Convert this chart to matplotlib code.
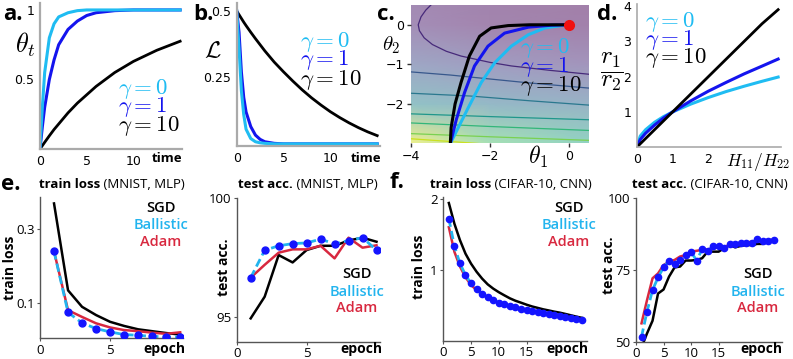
import numpy as np
import matplotlib
matplotlib.use('Agg')
import matplotlib.pyplot as plt
from matplotlib.colors import ListedColormap

plt.rcParams['mathtext.fontset'] = 'cm'
plt.rcParams['font.family'] = ['Open Sans', 'DejaVu Sans']

W, H = 793, 359

CYAN = '#1fbcf2'
BLUE = '#1414ee'
RED = '#d8283f'
SPINE = '#aaaaaa'

# --- a. theta_t over time
a_t = [0, 0.25, 0.5, 1, 1.5, 2, 3, 4, 5, 6, 8, 10, 12.5, 15]
a_cyan = [0, 0.3, 0.55, 0.8, 0.9, 0.95, 0.98, 0.995, 1.0, 1.0, 1.0, 1.0, 1.0, 1.0]
a_blue = [0, 0.16, 0.3, 0.5, 0.64, 0.75, 0.86, 0.92, 0.96, 0.98, 0.995, 1.0, 1.0, 1.0]
a_black = [0, 0.024, 0.048, 0.095, 0.14, 0.18, 0.26, 0.33, 0.39, 0.45, 0.55, 0.63, 0.71, 0.775]

# --- b. loss over time
b_t = [0, 0.25, 0.5, 0.75, 1, 1.5, 2, 2.5, 3, 4, 5, 6, 7, 8, 9, 10, 11, 12, 13, 14, 15]
b_cyan = [0.5, 0.36, 0.2, 0.11, 0.055, 0.02, 0.008, 0.004, 0.002, 0.0, 0, 0, 0, 0, 0, 0, 0, 0, 0, 0, 0]
b_blue = [0.5, 0.42, 0.27, 0.175, 0.12, 0.065, 0.033, 0.017, 0.008, 0.002, 0, 0, 0, 0, 0, 0, 0, 0, 0, 0, 0]
b_black = [0.5, 0.486, 0.472, 0.458, 0.445, 0.42, 0.396, 0.373, 0.35, 0.308, 0.271, 0.236, 0.203,
           0.173, 0.146, 0.121, 0.099, 0.079, 0.061, 0.045, 0.031]

# --- c. trajectories on loss landscape
c_black = ([-3.0, -2.98, -2.88, -2.73, -2.52, -2.26, -1.97, -1.54, -1.0, 0.0],
           [-3.0, -2.6, -2.0, -1.46, -0.79, -0.29, -0.08, -0.02, 0.0, 0.0])
c_blue = ([-3.0, -2.85, -2.64, -2.39, -2.05, -1.63, -1.03, -0.44, 0.0],
          [-3.0, -2.4, -1.71, -1.04, -0.54, -0.21, -0.06, -0.01, 0.0])
c_cyan = ([-3.0, -2.8, -2.56, -2.22, -1.88, -1.46, -1.03, -0.61, -0.19, 0.0],
          [-3.0, -2.6, -2.12, -1.46, -0.96, -0.54, -0.25, -0.08, -0.02, 0.0])
bg_theta1 = [-4, -2, 0.5]
bg_theta2 = [-3, -2, -1, 0, 0.5]
bg_level = [[0.95, 0.72, 0.6],
            [0.45, 0.38, 0.33],
            [0.24, 0.17, 0.12],
            [0.08, 0.03, 0.01],
            [0.06, 0.02, 0.0]]
contours = [
    ([-3.49, -3.62, -3.74, -3.81, -3.78, -3.66, -3.45, -3.1, -2.73, -2.0, -1.46, -0.5, 0.5],
     [0.5, 0.37, 0.2, 0.0, -0.15, -0.33, -0.5, -0.67, -0.79, -0.95, -1.04, -1.15, -1.25]),
    ([-4, -3, -2, -1, 0.5], [-1.19, -1.27, -1.37, -1.47, -1.6]),
    ([-4, -2.5, -1, 0.5], [-1.73, -1.8, -1.92, -2.03]),
    ([-4, -2, 0.5], [-2.25, -2.32, -2.4]),
    ([-4, -2, 0.5], [-2.48, -2.57, -2.67]),
    ([-4, -2, 0.5], [-2.75, -2.83, -2.92]),
    ([-4, -3, -2.3], [-2.88, -2.95, -3.0]),
]
contour_shade = [0.12, 0.27, 0.4, 0.53, 0.66, 0.8, 0.92]

# --- d. r1/r2 vs H11/H22
d_x = [0, 0.1, 0.25, 0.5, 0.75, 1, 1.5, 2, 2.5, 3, 3.5, 3.95]
d_cyan = [0, 0.32, 0.5, 0.71, 0.87, 1.0, 1.22, 1.41, 1.58, 1.73, 1.87, 1.99]
d_blue = [0, 0.22, 0.4, 0.63, 0.83, 1.0, 1.31, 1.59, 1.84, 2.08, 2.3, 2.5]
d_black = [0, 0.1, 0.25, 0.5, 0.75, 1, 1.5, 2, 2.5, 3, 3.5, 3.9]

# --- e. MNIST, MLP
e_epoch = [1, 2, 3, 4, 5, 6, 7, 8, 9, 10]
e_loss_sgd = [0.367, 0.135, 0.091, 0.069, 0.051, 0.040, 0.031, 0.026, 0.021, 0.017]
e_loss_ball = [0.239, 0.076, 0.048, 0.033, 0.024, 0.017, 0.015, 0.012, 0.011, 0.010]
e_loss_adam = [0.239, 0.082, 0.064, 0.047, 0.036, 0.029, 0.026, 0.022, 0.019, 0.023]
e_acc_sgd = [94.93, 95.84, 97.59, 97.28, 97.8, 97.98, 97.98, 98.2, 98.32, 98.15]
e_acc_ball = [96.64, 97.79, 97.98, 98.07, 98.1, 98.26, 98.06, 98.2, 98.32, 97.8]
e_acc_adam = [96.64, 97.18, 97.69, 97.83, 97.83, 97.98, 97.45, 98.32, 97.9, 98.0]

# --- f. CIFAR-10, CNN
f_epoch = list(range(1, 26))
f_loss_sgd = [1.94, 1.65, 1.42, 1.23, 1.09, 0.976, 0.88, 0.80, 0.74, 0.69, 0.646, 0.604, 0.57,
              0.543, 0.515, 0.49, 0.47, 0.45, 0.434, 0.417, 0.403, 0.385, 0.366, 0.347, 0.33]
f_loss_ball = [1.72, 1.336, 1.093, 0.93, 0.814, 0.73, 0.664, 0.618, 0.58, 0.543, 0.52, 0.497, 0.478,
               0.455, 0.44, 0.42, 0.406, 0.394, 0.38, 0.366, 0.357, 0.343, 0.333, 0.319, 0.305]
f_loss_adam = [1.6, 1.256, 1.05, 0.9, 0.79, 0.72, 0.66, 0.615, 0.575, 0.54, 0.515, 0.492, 0.473,
               0.452, 0.436, 0.418, 0.404, 0.391, 0.378, 0.365, 0.355, 0.342, 0.331, 0.318, 0.305]
f_acc_sgd = [48, 52.9, 57.3, 66.8, 68.2, 72.7, 75.9, 76.2, 78.3, 78.3, 78.5, 79.1, 81.4, 81.4, 81.4,
             82.6, 83.7, 82.9, 83.4, 83.7, 83.7, 84.1, 84.1, 84.9, 85.2]
f_acc_ball = [51.75, 60.5, 68.0, 72.4, 75.9, 78.3, 77.1, 78.5, 80.1, 81.3, 78.3, 82.2, 81.5, 83.4,
              83.4, 82.6, 84.1, 84.1, 84.3, 84.5, 84.3, 85.9, 85.1, 85.2, 85.5]
f_acc_adam = [56.4, 64.5, 72.1, 73.8, 76.7, 77.9, 78.5, 79.7, 80.2, 81.4, 81.7, 82.0, 82.2, 82.6,
              82.9, 83.1, 83.7, 84.1, 84.3, 84.5, 84.9, 85.1, 85.2, 85.5, 85.5]

gamma_labels = [r'$\gamma = 0$', r'$\gamma = 1$', r'$\gamma = 10$']
gamma_colors = [CYAN, BLUE, 'black']
opt_labels = ['SGD', 'Ballistic', 'Adam']
opt_colors = ['black', '#22b4ee', RED]

# viridis washed out with white, like a half transparent image
pale_viridis = ListedColormap(0.5 * plt.cm.viridis(np.linspace(0, 1, 256)) + 0.5)


def rect(l, t, r, b):
    # pixel box -> figure fraction
    return [l / W, 1 - b / H, (r - l) / W, (b - t) / H]


def ftext(x, y, s, **kw):
    return fig.text(x / W, 1 - y / H, s, **kw)


fig = plt.figure(figsize=(W / 100, H / 100), dpi=100)


def theory_axes(box, spine_lw=1.6):
    ax = fig.add_axes(box)
    for side in ['top', 'right']:
        ax.spines[side].set_visible(False)
    for side in ['left', 'bottom']:
        ax.spines[side].set_color(SPINE)
        ax.spines[side].set_linewidth(spine_lw)
    ax.tick_params(length=0, pad=4, labelsize=9)
    return ax


def fix_tick_font(ax, size=9):
    for lab in ax.get_xticklabels() + ax.get_yticklabels():
        lab.set_family('DejaVu Sans')
        lab.set_fontsize(size)


def gamma_legend(x, ys):
    for y, s, c in zip(ys, gamma_labels, gamma_colors):
        ftext(x, y, s, color=c, fontsize=16.5, va='baseline', ha='left')


# a.
ax = theory_axes(rect(40, 3, 182, 149))
ax.plot(a_t, a_black, color='black', lw=2)
ax.plot(a_t, a_blue, color=BLUE, lw=2.2)
ax.plot(a_t, a_cyan, color=CYAN, lw=2.2)
ax.set_xlim(0, 15.2)
ax.set_ylim(0, 1.05)
ax.set_xticks([0, 5, 10])
ax.set_yticks([0.5, 1])
ax.set_yticklabels(['0.5', '1'])
fix_tick_font(ax)
gamma_legend(118, [94, 112, 131])
ftext(25, 45, r'$\theta_t$', fontsize=19, ha='center', va='center')
ftext(182, 159, 'time', fontsize=9.5, weight='bold', ha='right', va='center')
ftext(3, 15, 'a.', fontsize=16, weight='bold', va='center')

# b.
ax = theory_axes(rect(236.7, 3, 380, 146))
ax.plot(b_t, b_black, color='black', lw=2)
ax.plot(b_t, b_blue, color=BLUE, lw=2.2)
ax.plot(b_t, b_cyan, color=CYAN, lw=2.2)
ax.set_xlim(0, 15.3)
ax.set_ylim(-0.008, 0.53)
ax.set_xticks([0, 5, 10])
ax.set_yticks([0.25, 0.5])
ax.set_yticklabels(['0.25', '0.5'])
fix_tick_font(ax)
gamma_legend(300, [46.7, 65, 85])
ftext(213, 51, r'$\mathcal{L}$', fontsize=17, ha='center', va='center')
ftext(381, 159, 'time', fontsize=9.5, weight='bold', ha='right', va='center')
ftext(193, 15, 'b.', fontsize=16, weight='bold', va='center')

# c.
ax = fig.add_axes(rect(410.7, 5, 589, 143.5))
ax.pcolormesh(bg_theta1, bg_theta2, bg_level, shading='gouraud', cmap=pale_viridis,
              vmin=0, vmax=1)
for (cx, cy), shade in zip(contours, contour_shade):
    ax.plot(cx, cy, color=plt.cm.viridis(shade), lw=0.9)
ax.plot(*c_cyan, color=CYAN, lw=2.2)
ax.plot(*c_blue, color=BLUE, lw=2.2)
ax.plot(*c_black, color='black', lw=2.2)
ax.plot([0], [0], 'o', color='#f01010', ms=7, zorder=5)
ax.set_xlim(-4, 0.5)
ax.set_ylim(-3, 0.5)
for s in ax.spines.values():
    s.set_visible(False)
ax.set_xticks([-4, -2, 0])
ax.set_yticks([-2, -1, 0])
ax.tick_params(length=3, width=1, pad=2, color='#333333')
fix_tick_font(ax)
gamma_legend(520, [53.3, 71.7, 90.7])
ftext(391, 45, r'$\theta_2$', fontsize=15, ha='center', va='center')
ftext(538, 157, r'$\theta_1$', fontsize=17, ha='center', va='center')
ftext(377, 15, 'c.', fontsize=16, weight='bold', va='center')

# d.
ax = theory_axes(rect(636.7, 4, 781, 147.3), spine_lw=1.2)
ax.plot(d_x, d_cyan, color=CYAN, lw=2.2)
ax.plot(d_x, d_blue, color=BLUE, lw=2.2)
ax.plot(d_x, d_black, color='black', lw=2)
ax.set_xlim(0, 4.03)
ax.set_ylim(0, 4.06)
ax.set_xticks([0, 1, 2])
ax.set_yticks([1, 2, 3, 4])
fix_tick_font(ax)
gamma_legend(645, [26.7, 45, 63.3])
ftext(612, 72, r'$\dfrac{r_1}{r_2}$', fontsize=18, ha='center', va='center')
ftext(726, 162, r'$H_{11}/H_{22}$', fontsize=12.5, ha='left', va='center')
ftext(597, 15, 'd.', fontsize=16, weight='bold', va='center')


# e. / f.
def result_axes(box, xlim, ylim, xticks, yticks, yticklabels):
    ax = fig.add_axes(box)
    for side in ['top', 'right']:
        ax.spines[side].set_visible(False)
    for side in ['left', 'bottom']:
        ax.spines[side].set_color('#555555')
        ax.spines[side].set_linewidth(1.0)
    ax.set_xlim(*xlim)
    ax.set_ylim(*ylim)
    ax.set_xticks(xticks)
    ax.set_yticks(yticks)
    ax.set_yticklabels(yticklabels)
    ax.tick_params(length=2.5, width=0.8, color='#555555', pad=1.5, labelsize=9.5)
    return ax


def draw_runs(ax, x, sgd, ball, adam, ms=5):
    ax.plot(x, sgd, color='black', lw=1.8)
    ax.plot(x, adam, color=RED, lw=1.8)
    ax.plot(x, ball, color='#22b4ee', lw=2, ls=(0, (3, 1.5)))
    ax.plot(x, ball, 'o', color='#1414ff', ms=ms, zorder=4)


def opt_legend(x, ys):
    for y, s, c in zip(ys, opt_labels, opt_colors):
        ftext(x, y, s, color=c, fontsize=10.5, weight='semibold', ha='center', va='center')


def two_part_title(x, y, bold, rest):
    t = ftext(x, y, bold, fontsize=9.5, weight='bold', va='center', ha='left')
    fig.add_artist(matplotlib.text.Annotation(rest, xy=(1, 0.5), xycoords=t, fontsize=9.5,
                                              va='center', ha='left', annotation_clip=False))


ax = result_axes(rect(40, 196.7, 183, 338.3), (0, 10.2), (0.007, 0.385), [0, 5],
                 [0.1, 0.3], ['0.1', '0.3'])
draw_runs(ax, e_epoch, e_loss_sgd, e_loss_ball, e_loss_adam)
opt_legend(161, [208.3, 225, 241.7])
ftext(10, 268, 'train loss', fontsize=10, weight='bold', rotation=90, ha='center', va='center')
ftext(185, 349, 'epoch', fontsize=10, weight='bold', ha='right', va='center')
two_part_title(39, 185, 'train loss', ' (MNIST, MLP)')
ftext(1, 184, 'e.', fontsize=16, weight='bold', va='center')

ax = result_axes(rect(236.7, 197.7, 380, 341.7), (0, 10.25), (93.95, 100), [0, 5],
                 [95, 100], ['95', '100'])
draw_runs(ax, e_epoch, e_acc_sgd, e_acc_ball, e_acc_adam)
opt_legend(357, [274.3, 291.7, 308.3])
ftext(224, 267, 'test acc.', fontsize=10, weight='bold', rotation=90, ha='center', va='center')
ftext(382, 349, 'epoch', fontsize=10, weight='bold', ha='right', va='center')
two_part_title(238, 185, 'test acc.', ' (MNIST, MLP)')

ax = result_axes(rect(443.3, 197.3, 587, 340.7), (0, 25.9), (0.01, 2.02), [0, 5, 10, 15],
                 [1, 2], ['1', '2'])
draw_runs(ax, f_epoch, f_loss_sgd, f_loss_ball, f_loss_adam, ms=4.5)
opt_legend(569, [208.3, 225, 241.7])
ftext(419, 267, 'train loss', fontsize=10, weight='bold', rotation=90, ha='center', va='center')
ftext(588, 349, 'epoch', fontsize=10, weight='bold', ha='right', va='center')
two_part_title(430, 185, 'train loss', ' (CIFAR-10, CNN)')
ftext(390, 183, 'f.', fontsize=16, weight='bold', va='center')

ax = result_axes(rect(636, 198.3, 782, 341.7), (0, 26.5), (50, 100), [0, 5, 10, 15],
                 [50, 75, 100], ['50', '75', '100'])
draw_runs(ax, f_epoch, f_acc_sgd, f_acc_ball, f_acc_adam, ms=4.5)
opt_legend(757.5, [274.3, 291.7, 308.3])
ftext(609, 265, 'test acc.', fontsize=10, weight='bold', rotation=90, ha='center', va='center')
ftext(782, 349, 'epoch', fontsize=10, weight='bold', ha='right', va='center')
two_part_title(632, 185, 'test acc.', ' (CIFAR-10, CNN)')

fig.savefig('out.png', dpi=100)
